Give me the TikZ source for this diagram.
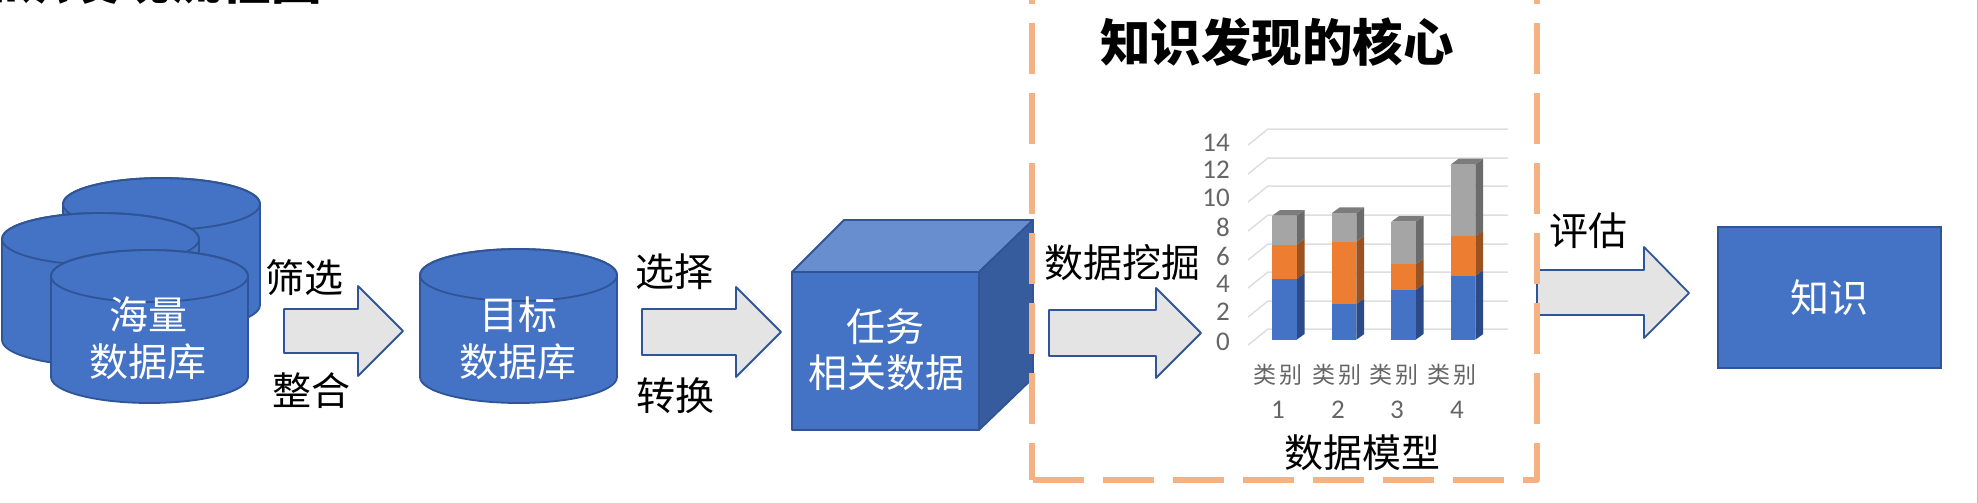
\documentclass[tikz,border=0pt]{standalone}
\usepackage{fontspec}
\setmainfont{Noto Sans CJK SC}
\newfontfamily\digitfont{Carlito}
\definecolor{bluefill}{HTML}{4472C4}
\definecolor{blueline}{HTML}{2F5597}
\definecolor{boxtop}{HTML}{698ED0}
\definecolor{boxside}{HTML}{365C9D}
\definecolor{arrowfill}{HTML}{E4E4E4}
\definecolor{dashorange}{HTML}{F4B183}
\definecolor{gridgrey}{HTML}{DEDEDE}
\definecolor{axisgrey}{HTML}{656565}
\definecolor{barorange}{HTML}{ED7D31}
\definecolor{bargrey}{HTML}{A5A5A5}
\definecolor{sideblue}{HTML}{2C4A87}
\definecolor{sideorange}{HTML}{9A5220}
\definecolor{sidegrey}{HTML}{6B6B6B}
\definecolor{topgrey}{HTML}{7C7C7C}
\tikzset{
  shapeline/.style={draw=blueline,line width=1.8pt,line join=round},
  bigarrow/.style={shapeline,fill=arrowfill},
  whitelabel/.style={text=white,font=\fontsize{39}{39}\selectfont,inner sep=0pt,anchor=center},
  blacklabel/.style={text=black,font=\fontsize{39}{39}\selectfont,inner sep=0pt,anchor=center},
  titlelabel/.style={text=black,font=\bfseries\fontsize{50.5}{50.5}\selectfont,inner sep=0pt,anchor=center},
  axislabel/.style={text=axisgrey,font=\digitfont\fontsize{27}{27}\selectfont,inner sep=0pt},
  catlabel/.style={text=axisgrey,font=\fontsize{23}{23}\selectfont,inner sep=0pt,anchor=center},
  gridline/.style={draw=gridgrey,line width=1.5pt},
  frameline/.style={draw=dashorange,line width=6pt,line join=round,dash pattern=on 51pt off 19pt},
}
% #1 left x, #2 top, #3 bottom
\newcommand{\dbcyl}[3]{%
  \pgfmathsetmacro{\cr}{#1+197}%
  \pgfmathsetmacro{\cc}{#1+98.5}%
  \pgfmathsetmacro{\ct}{#2+26}%
  \pgfmathsetmacro{\cb}{#3-26}%
  \draw[shapeline,fill=bluefill] (#1,\ct) -- (#1,\cb) arc[start angle=180,end angle=360,x radius=98.5pt,y radius=26pt] -- (\cr,\ct) arc[start angle=0,end angle=180,x radius=98.5pt,y radius=26pt] -- cycle;
  \draw[shapeline] (\cc,\ct) ellipse[x radius=98.5pt,y radius=26pt];
}
% #1 left, #2 head base, #3 tip, #4 head top, #5 shaft top, #6 tip y, #7 shaft bottom, #8 head bottom
\newcommand{\fatarrow}[8]{%
  \draw[bigarrow] (#1,#5) -- (#2,#5) -- (#2,#4) -- (#3,#6) -- (#2,#8) -- (#2,#7) -- (#1,#7) -- cycle;
}
% #1 left x, #2 blue top, #3 orange top, #4 grey top
\newcommand{\stackbar}[4]{%
  \pgfmathsetmacro{\br}{#1+24.4}%
  \pgfmathsetmacro{\bs}{#1+32.2}%
  \pgfmathsetmacro{\bt}{#1+7.8}%
  \fill[sideblue] (\br,339.7) -- (\bs,334) -- (\bs,#2-5.7) -- (\br,#2) -- cycle;
  \fill[sideorange] (\br,#2) -- (\bs,#2-5.7) -- (\bs,#3-5.7) -- (\br,#3) -- cycle;
  \fill[sidegrey] (\br,#3) -- (\bs,#3-5.7) -- (\bs,#4-5.7) -- (\br,#4) -- cycle;
  \fill[topgrey] (#1,#4) -- (\bt,#4-5.7) -- (\bs,#4-5.7) -- (\br,#4) -- cycle;
  \fill[bluefill] (#1,339.7) rectangle (\br,#2);
  \fill[barorange] (#1,#2) rectangle (\br,#3);
  \fill[bargrey] (#1,#3) rectangle (\br,#4);
}
\begin{document}
\begin{tikzpicture}[x=1pt,y=-1pt]
\useasboundingbox (0,0) rectangle (1978,503);
\fill[white] (0,0) rectangle (1978,503);
\begin{scope}
\clip (0,0) rectangle (1978,503);
\node[titlelabel,anchor=east] (toptitle) at (322,-20) {知识发现流程图};
\draw[draw=lightgray,line width=1pt] (1977.5,0) -- (1977.5,503);
% cylinders
\dbcyl{63}{178}{331}
\dbcyl{2}{213}{366}
\dbcyl{51}{250}{403}
\dbcyl{420}{249}{403}
\node[whitelabel] (hai) at (148,315) {海量};
\node[whitelabel] (haidb) at (148,362) {数据库};
\node[whitelabel] (mu) at (518,315) {目标};
\node[whitelabel] (mudb) at (518,362) {数据库};
% arrows
\fatarrow{284}{358}{403}{286}{309}{331}{353}{376}
\fatarrow{642}{736}{781}{287}{309}{332}{355}{377}
\fatarrow{1049}{1156}{1201}{288}{310}{333}{356}{378}
\fatarrow{1537}{1644}{1689}{247}{270}{293}{315}{338}
\node[blacklabel] (shai) at (304,278) {筛选};
\node[blacklabel] (zheng) at (311,391) {整合};
\node[blacklabel] (xuan) at (674,272) {选择};
\node[blacklabel] (zhuan) at (675,396) {转换};
\node[blacklabel] (wa) at (1122,263) {数据挖掘};
\node[blacklabel] (ping) at (1588,231) {评估};
% cube
\draw[shapeline,fill=boxtop] (792,272) -- (844,220) -- (1033,220) -- (979,272) -- cycle;
\draw[shapeline,fill=boxside] (979,272) -- (1033,220) -- (1033,378) -- (979,430) -- cycle;
\draw[shapeline,fill=bluefill] (792,272) rectangle (979,430);
\node[whitelabel] (ren) at (885,327) {任务};
\node[whitelabel] (xiang) at (886,373) {相关数据};
% knowledge
\node[draw=blueline,line width=1.8pt,fill=bluefill,minimum width=223pt,minimum height=141pt,inner sep=0pt,text=white,font=\fontsize{39}{39}\selectfont] (zhi) at (1829.5,297.5) {知识};
% chart grid
\foreach \gy in {129,158,186,215,244,272,301,329}{
  \draw[gridline] (1248,\gy+16) -- (1268,\gy) -- (1508,\gy);
}
\stackbar{1272.3}{279}{244.7}{215.7}
\stackbar{1332}{304}{241.7}{213}
\stackbar{1391.3}{290}{264.3}{221.7}
\stackbar{1451}{275.7}{236}{164.3}
\foreach \lab/\ly in {14/143,12/170,10/198,8/227,6/256,4/284,2/312,0/342}{
  \node[axislabel,anchor=east] (ax\lab) at (1230,\ly) {\lab};
}
\foreach \cx/\dx/\num in {1278/1278/1,1337/1338/2,1394/1397/3,1452/1457/4}{
  \node[catlabel] (cat\num) at (\cx,375) {类\hspace{2.5pt}别};
  \node[axislabel,anchor=center] (num\num) at (\dx,410) {\num};
}
\node[blacklabel] (model) at (1362,453) {数据模型};
\node[titlelabel] (core) at (1277,42) {知识发现的核心};
% dashed frame
\draw[frameline] (1537,-47) -- (1537,480) -- (1032,480);
\draw[frameline,dash phase=14pt] (1032,480) -- (1032,-10);
\end{scope}
\end{tikzpicture}
\end{document}
